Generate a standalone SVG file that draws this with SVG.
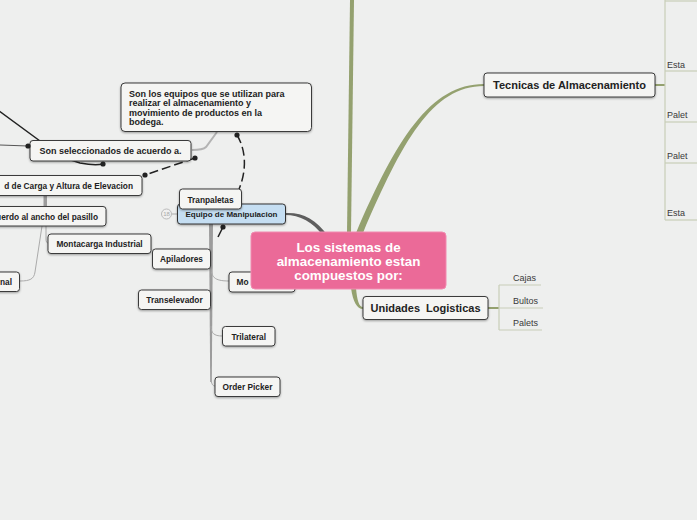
<svg xmlns="http://www.w3.org/2000/svg" width="697" height="520" viewBox="0 0 697 520">
<defs>
<filter id="sh" x="-10%" y="-20%" width="120%" height="150%">
<feDropShadow dx="0" dy="1" stdDeviation="0.8" flood-color="#000" flood-opacity="0.35"/>
</filter>
</defs>
<style>
.box{fill:#f5f5f3;stroke:#3a3a3a;stroke-width:1;filter:url(#sh)}
.t{font-family:"Liberation Sans",Arial,sans-serif;font-weight:bold;fill:#222}
.s8{font-size:8.3px}
.s9{font-size:9px}
.s11{font-size:11px}
.c{text-anchor:middle}
.e{text-anchor:end}
.leaf{font-family:"Liberation Sans",Arial,sans-serif;font-size:9px;fill:#3a3a3a}
.ol{fill:none;stroke:#c8cdb8;stroke-width:1.2}
.rel{fill:none;stroke:#222;stroke-width:1.5}
.dash{stroke-dasharray:9,4}
.gl{fill:none;stroke:#aaa;stroke-width:1}
</style>
<rect width="697" height="520" fill="#eeefee"/>

<g id="connectors">
<polygon points="350,0 354,0 351,233 347,233" fill="#94a16f"/>
<path d="M356,233 C396,140 430,84 484,84 L484,86 C432,86 402,142 363,233 Z" fill="#94a16f"/>
<path d="M351,288 C353,302 357,309 363,309 L363,307 C359,307 357,300 356,288 Z" fill="#94a16f"/>
<path d="M285,213 C302,212 316,219 328,236 L323,236 C313,222 300,215 285,215 Z" fill="#5e5e5e"/>
<line x1="655" y1="85" x2="665" y2="85" stroke="#94a16f" stroke-width="2"/>
<line class="ol" x1="665" y1="0" x2="665" y2="220"/>
<line class="ol" x1="665" y1="1" x2="697" y2="1"/>
<line class="ol" x1="665" y1="71" x2="697" y2="71"/>
<line class="ol" x1="665" y1="122" x2="697" y2="122"/>
<line class="ol" x1="665" y1="163" x2="697" y2="163"/>
<line class="ol" x1="665" y1="220" x2="697" y2="220"/>
<line x1="488" y1="308" x2="499" y2="308" stroke="#94a16f" stroke-width="2"/>
<line class="ol" x1="499" y1="285" x2="499" y2="330"/>
<line class="ol" x1="499" y1="285" x2="541" y2="285"/>
<line class="ol" x1="499" y1="308" x2="543" y2="308"/>
<line class="ol" x1="499" y1="330" x2="542" y2="330"/>
<polygon points="209,224 213,224 211.8,382 210.2,382" fill="#9c9c9c"/>
<path class="gl" d="M211,266 C211,277 214,281 229,281"/>
<path class="gl" d="M211,326 C211,333 214,336 222,336"/>
<path class="gl" d="M211,378 C211,384 213,386 215,386"/>
<line x1="171.5" y1="214" x2="177.5" y2="214" stroke="#aaa" stroke-width="1"/>
<rect x="43.5" y="195" width="3.5" height="12" fill="#9c9c9c"/>
<path class="gl" d="M42,226 L35,272 C34,279 30,281 20,281"/>
<path class="gl" d="M46,226 L46,239 C46,242 47,243 48,243"/>
<path d="M217,132 L206,147 C204,149 200,150 192,150" fill="none" stroke="#b3b3b3" stroke-width="2"/>
<path class="rel" d="M-5,108 L40,141 C55,153 68,160 80,163 Q95,166 103,164"/>
<line x1="0" y1="145" x2="28" y2="146" stroke="#555" stroke-width="1"/>
<path class="rel dash" d="M195,158 L145,175"/>
<path class="rel dash" d="M237,135 C246,150 247,170 239,189"/>
<line class="rel" x1="223" y1="227" x2="218" y2="237"/>
</g>

<g id="n_capacidad"><rect class="box" x="-5" y="175.5" width="147" height="20" rx="3"/><text class="t s8 e" x="133" y="189">d de Carga y Altura de Elevacion</text></g>
<g id="n_ancho"><rect class="box" x="-5" y="206.5" width="111" height="19.5" rx="3"/><text class="t s8 e" x="98" y="219.5">uerdo al ancho del pasillo</text></g>
<g id="n_montacarga_ind"><rect class="box" x="48" y="234" width="103" height="19.5" rx="3"/><text class="t s8 c" x="99.5" y="247">Montacarga Industrial</text></g>
<g id="n_nal"><rect class="box" x="-5" y="272" width="24.5" height="19.5" rx="3"/><text class="t s8 e" x="12" y="285">nal</text></g>

<g id="n_equipos_def"><rect class="box" x="121" y="83" width="190.5" height="48.5" rx="4"/>
<text class="t s9" x="129" y="97">Son los equipos que se utilizan para</text>
<text class="t s9" x="129" y="106.3">realizar el almacenamiento y</text>
<text class="t s9" x="129" y="115.6">movimiento de productos en la</text>
<text class="t s9" x="129" y="124.9">bodega.</text></g>
<g id="n_seleccionados"><rect class="box" x="30" y="140.5" width="161" height="20.5" rx="3"/><text class="t s9 c" x="110.5" y="154">Son seleccionados de acuerdo a.</text></g>

<g id="n_equipo"><rect x="177.5" y="204" width="108" height="20" rx="3" fill="#c5def2" stroke="#333" stroke-width="1" filter="url(#sh)"/><text class="t c" font-size="8" x="231.5" y="217">Equipo de Manipulacion</text>
<circle cx="166.5" cy="214" r="5" fill="#f0f0f0" stroke="#bbb" stroke-width="1"/><text x="166.5" y="216.2" font-family="Liberation Sans,Arial,sans-serif" font-size="6" fill="#aaa" text-anchor="middle">18</text></g>
<g id="n_tranpaletas"><rect class="box" x="179.5" y="189" width="62" height="20" rx="3"/><text class="t s8 c" x="210.5" y="202.5">Tranpaletas</text></g>
<g id="n_apiladores"><rect class="box" x="152.5" y="249" width="58" height="20" rx="3"/><text class="t s8 c" x="181.5" y="262">Apiladores</text></g>
<g id="n_mo"><rect class="box" x="229" y="272" width="66" height="20" rx="3"/><text class="t s8" x="236.5" y="285">Mo</text></g>
<g id="n_transelevador"><rect class="box" x="138.5" y="290" width="72" height="19.5" rx="3"/><text class="t s8 c" x="174.5" y="303">Transelevador</text></g>
<g id="n_trilateral"><rect class="box" x="222.5" y="326.5" width="52.5" height="19.5" rx="3"/><text class="t s8 c" x="248.75" y="339.5">Trilateral</text></g>
<g id="n_orderpicker"><rect class="box" x="215" y="377" width="65" height="19.5" rx="3"/><text class="t s8 c" x="247.5" y="390">Order Picker</text></g>

<g id="n_central"><rect x="251" y="232" width="195" height="57" rx="4" fill="#eb6a98" stroke="#f18ab0" stroke-width="1"/>
<text class="c" font-family="Liberation Sans,Arial,sans-serif" font-weight="bold" font-size="13.4" fill="#fff">
<tspan x="348.5" y="252">Los sistemas de</tspan><tspan x="348.5" y="266">almacenamiento estan</tspan><tspan x="348.5" y="280">compuestos por:</tspan></text></g>

<g id="n_tecnicas"><rect class="box" x="484" y="73" width="171" height="24" rx="3"/><text class="t s11 c" x="569.5" y="89">Tecnicas de Almacenamiento</text></g>
<g id="n_unidades"><rect class="box" x="363" y="296.5" width="125" height="23" rx="3"/><text class="t s11 c" x="425.5" y="312" style="white-space:pre">Unidades  Logisticas</text></g>

<g id="leaves">
<text class="leaf" x="667" y="67.5">Esta</text>
<text class="leaf" x="667" y="118">Palet</text>
<text class="leaf" x="667" y="159">Palet</text>
<text class="leaf" x="667" y="216">Esta</text>
<text class="leaf" x="513" y="281">Cajas</text>
<text class="leaf" x="513" y="304">Bultos</text>
<text class="leaf" x="513" y="326">Palets</text>
</g>

<g id="dots" fill="#222">
<circle cx="103" cy="164" r="2.6"/>
<circle cx="28" cy="146" r="2.6"/>
<circle cx="195" cy="158" r="2.6"/>
<circle cx="145" cy="175" r="2.6"/>
<circle cx="237" cy="135" r="2.6"/>
<circle cx="223" cy="227" r="2.6"/>
</g>
</svg>
